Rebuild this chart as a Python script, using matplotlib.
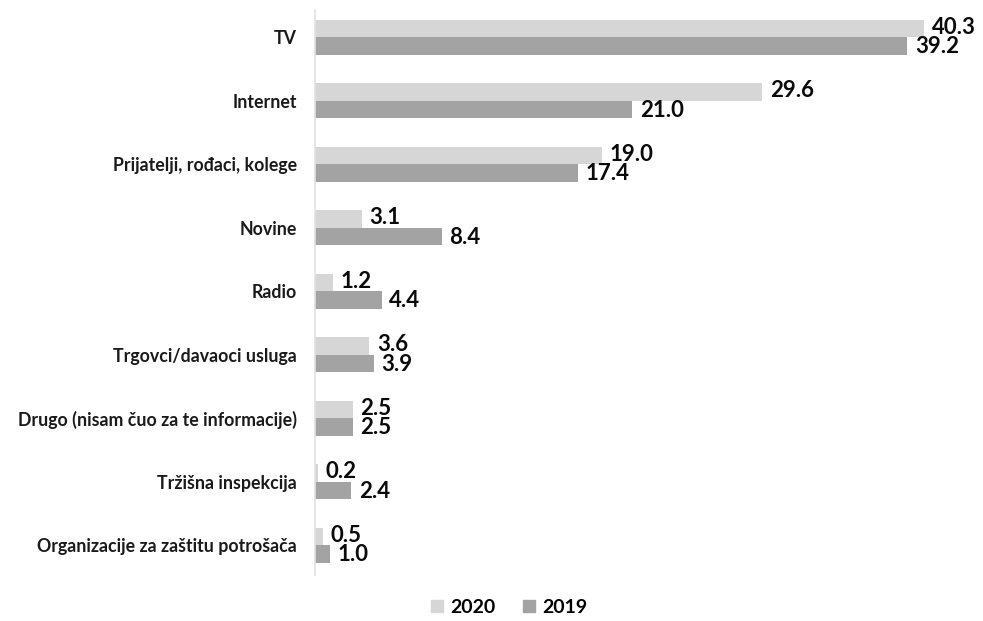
import numpy as np
import matplotlib.pyplot as plt
from matplotlib.patches import Patch

# survey categories, top to bottom
categories = ['TV', 'Internet', 'Prijatelji, rođaci, kolege', 'Novine', 'Radio',
              'Trgovci/davaoci usluga', 'Drugo (nisam čuo za te informacije)',
              'Tržišna inspekcija', 'Organizacije za zaštitu potrošača']
vals_2020 = [40.3, 29.6, 19.0, 3.1, 1.2, 3.6, 2.5, 0.2, 0.5]
vals_2019 = [39.2, 21.0, 17.4, 8.4, 4.4, 3.9, 2.5, 2.4, 1.0]

c2020 = '#d6d6d6'
c2019 = '#a3a3a3'

plt.rcParams['font.family'] = ['Lato', 'DejaVu Sans']

fig = plt.figure(figsize=(9.83, 6.21), dpi=100)
ax = fig.add_axes([0.3205, 0.074, 0.6795, 0.91])

y = np.arange(len(categories))
h = 0.275
ax.barh(y - h / 2, vals_2020, height=h, color=c2020, label='2020')
ax.barh(y + h / 2, vals_2019, height=h, color=c2019, label='2019')

# value labels next to each bar end
gap = 0.5
for yi, v in zip(y, vals_2020):
    ax.text(v + gap, yi - h / 2 - 0.02, '%.1f' % v, va='center', ha='left',
            fontsize=16, fontweight='bold', color='#0a0a0a')
for yi, v in zip(y, vals_2019):
    ax.text(v + gap, yi + h / 2 + 0.01, '%.1f' % v, va='center', ha='left',
            fontsize=16, fontweight='bold', color='#0a0a0a')

ax.set_xlim(0, 44.2)
ax.set_ylim(8.47, -0.43)
ax.set_yticks(y)
ax.set_yticklabels(categories, fontsize=12.8, fontweight='bold', color='#1a1a1a')
ax.set_xticks([])
ax.tick_params(axis='y', length=0, pad=13)
for s in ['top', 'right', 'bottom']:
    ax.spines[s].set_visible(False)
ax.spines['left'].set_color('#e2e2e2')
ax.spines['left'].set_linewidth(1.2)

handles = [Patch(color=c2020, label='2020'), Patch(color=c2019, label='2019')]
fig.legend(handles=handles, loc='center', bbox_to_anchor=(0.518, 0.022), ncol=2,
           frameon=False, prop={'weight': 'bold', 'size': 14},
           handlelength=0.6, handleheight=0.6, handletextpad=0.4, columnspacing=1.4)

fig.savefig('out.png', dpi=100)
